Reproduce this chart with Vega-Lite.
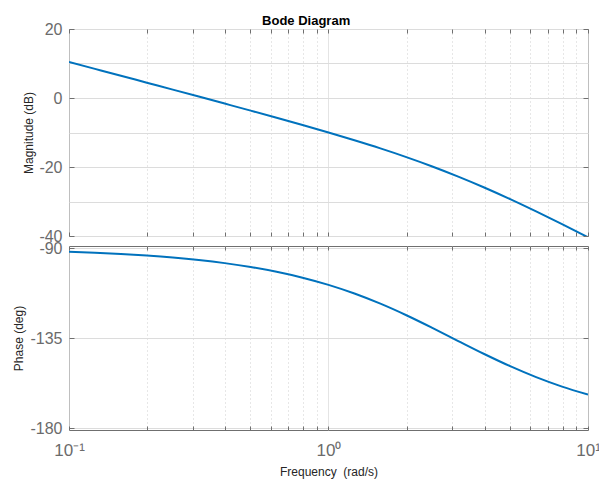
{
  "$schema": "https://vega.github.io/schema/vega-lite/v6.json",
  "autosize": {"type": "none"},
  "padding": {"left": 69, "top": 29, "right": 530, "bottom": 454},
  "background": "white",
  "bounds": "flush",
  "title": {"text": "Bode Diagram", "fontSize": 13, "fontWeight": "bold", "font": "Liberation Sans", "color": "#000000", "anchor": "middle", "offset": 8, "dy": 15},
  "config": {
    "view": {"stroke": "#6f6f6f", "strokeWidth": 1},
    "axis": {"labelFont": "Liberation Sans", "titleFont": "Liberation Sans", "labelColor": "#6b6b6b", "titleColor": "#262626", "titleFontWeight": "normal", "titleFontSize": 12, "tickColor": "#6f6f6f", "domain": false}
  },
  "data": {"values": [
    {"w": 0.1, "mag": 10.45, "phase": -91.91},
    {"w": 0.1259, "mag": 8.45, "phase": -92.40},
    {"w": 0.1585, "mag": 6.45, "phase": -93.02},
    {"w": 0.1995, "mag": 4.44, "phase": -93.80},
    {"w": 0.2512, "mag": 2.43, "phase": -94.78},
    {"w": 0.3162, "mag": 0.41, "phase": -96.02},
    {"w": 0.3981, "mag": -1.62, "phase": -97.56},
    {"w": 0.5012, "mag": -3.66, "phase": -99.48},
    {"w": 0.631, "mag": -5.73, "phase": -101.88},
    {"w": 0.7943, "mag": -7.84, "phase": -104.83},
    {"w": 1.0, "mag": -10.0, "phase": -108.43},
    {"w": 1.2589, "mag": -12.25, "phase": -112.76},
    {"w": 1.5849, "mag": -14.61, "phase": -117.85},
    {"w": 1.9953, "mag": -17.13, "phase": -123.63},
    {"w": 2.5119, "mag": -19.85, "phase": -129.94},
    {"w": 3.1623, "mag": -22.79, "phase": -136.51},
    {"w": 3.9811, "mag": -25.95, "phase": -143.00},
    {"w": 5.0119, "mag": -29.33, "phase": -149.09},
    {"w": 6.3096, "mag": -32.89, "phase": -154.57},
    {"w": 7.9433, "mag": -36.58, "phase": -159.31},
    {"w": 10.0, "mag": -40.37, "phase": -163.30}
  ]},
  "spacing": 10,
  "vconcat": [
    {
      "width": 519, "height": 207,
      "layer": [
        {
          "mark": {"type": "line", "color": "#0072BD", "strokeWidth": 2, "clip": true, "interpolate": "monotone"},
          "encoding": {
            "x": {"field": "w", "type": "quantitative", "scale": {"type": "log", "domain": [0.1, 10], "nice": false},
              "axis": {"orient": "bottom", "values": [0.1,0.2,0.3,0.4,0.5,0.6,0.7,0.8,0.9,1,2,3,4,5,6,7,8,9,10], "labels": false, "title": null, "tickSize": -4,
                "gridColor": {"condition": {"test": "datum.value == 0.1 || datum.value == 1 || datum.value == 10", "value": "#dadada"}, "value": "#cfcfcf"},
                "gridDash": {"condition": {"test": "datum.value == 0.1 || datum.value == 1 || datum.value == 10", "value": [1, 0]}, "value": [1, 3]}}},
            "y": {"field": "mag", "type": "quantitative", "scale": {"domain": [-40, 20], "nice": false, "zero": false},
              "axis": {"orient": "left", "values": [-40,-30,-20,-10,0,10,20], "title": "Magnitude (dB)", "titleX": -41, "titleBaseline": "middle", "labelFontSize": 16, "labelPadding": 12, "tickSize": -5,
                "labelExpr": "datum.value % 20 === 0 ? toString(datum.value) : ''",
                "tickOpacity": {"condition": {"test": "datum.value % 20 === 0", "value": 1}, "value": 0},
                "gridColor": "#dcdcdc"}}
          }
        },
        {
          "mark": {"type": "line", "opacity": 0, "clip": true},
          "encoding": {
            "x": {"field": "w", "type": "quantitative", "scale": {"type": "log", "domain": [0.1, 10], "nice": false},
              "axis": {"orient": "top", "values": [0.1,0.2,0.3,0.4,0.5,0.6,0.7,0.8,0.9,1,2,3,4,5,6,7,8,9,10], "labels": false, "title": null, "tickSize": -4, "grid": false}},
            "y": {"field": "mag", "type": "quantitative", "scale": {"domain": [-40, 20], "nice": false, "zero": false},
              "axis": {"orient": "right", "values": [-40,-20,0,20], "labels": false, "title": null, "tickSize": -5, "grid": false}}
          }
        }
      ],
      "resolve": {"axis": {"x": "independent", "y": "independent"}}
    },
    {
      "width": 519, "height": 184,
      "layer": [
        {
          "mark": {"type": "line", "color": "#0072BD", "strokeWidth": 2, "clip": true, "interpolate": "monotone"},
          "encoding": {
            "x": {"field": "w", "type": "quantitative", "scale": {"type": "log", "domain": [0.1, 10], "nice": false},
              "axis": {"orient": "bottom", "values": [0.1,0.2,0.3,0.4,0.5,0.6,0.7,0.8,0.9,1,2,3,4,5,6,7,8,9,10], "title": "Frequency \u00a0(rad/s)", "titleY": 41, "titleBaseline": "middle", "tickSize": -4, "labelPadding": 16, "labelFontSize": 17, "labelFlush": false,
                "labelExpr": "datum.value == 0.1 ? '10⁻¹' : datum.value == 1 ? '10⁰' : datum.value == 10 ? '10¹' : ''",
                "gridColor": {"condition": {"test": "datum.value == 0.1 || datum.value == 1 || datum.value == 10", "value": "#dadada"}, "value": "#cfcfcf"},
                "gridDash": {"condition": {"test": "datum.value == 0.1 || datum.value == 1 || datum.value == 10", "value": [1, 0]}, "value": [1, 3]}}},
            "y": {"field": "phase", "type": "quantitative", "scale": {"domain": [-181, -89], "nice": false, "zero": false},
              "axis": {"orient": "left", "values": [-180, -135, -90], "title": "Phase (deg)", "titleX": -51, "titleBaseline": "middle", "labelFontSize": 16, "labelPadding": 12, "tickSize": -5,
                "labelExpr": "toString(datum.value)", "gridColor": "#dcdcdc"}}
          }
        },
        {
          "mark": {"type": "line", "opacity": 0, "clip": true},
          "encoding": {
            "x": {"field": "w", "type": "quantitative", "scale": {"type": "log", "domain": [0.1, 10], "nice": false},
              "axis": {"orient": "top", "values": [0.1,0.2,0.3,0.4,0.5,0.6,0.7,0.8,0.9,1,2,3,4,5,6,7,8,9,10], "labels": false, "title": null, "tickSize": -4, "grid": false}},
            "y": {"field": "phase", "type": "quantitative", "scale": {"domain": [-181, -89], "nice": false, "zero": false},
              "axis": {"orient": "right", "values": [-180, -135, -90], "labels": false, "title": null, "tickSize": -5, "grid": false}}
          }
        }
      ],
      "resolve": {"axis": {"x": "independent", "y": "independent"}}
    }
  ]
}
